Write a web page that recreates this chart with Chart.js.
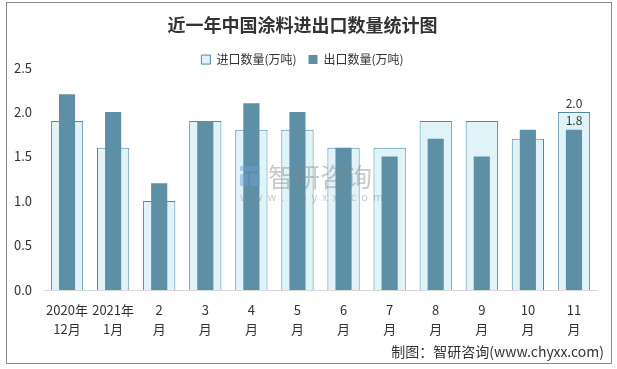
<!DOCTYPE html>
<html>
<head>
<meta charset="utf-8">
<script src="https://cdn.jsdelivr.net/npm/chart.js@4"></script>
<style>
    html, body { margin: 0; padding: 0; background: #fff; }
    #wrap { width: 617px; height: 369px; position: relative; }
</style>
</head>
<body>
<div id="wrap"><canvas id="tradeChart" width="617" height="369"></canvas></div>
<script>
const months = [["2020年", "12月"], ["2021年", "1月"], ["2", "月"], ["3", "月"], ["4", "月"], ["5", "月"],
    ["6", "月"], ["7", "月"], ["8", "月"], ["9", "月"], ["10", "月"], ["11", "月"]];
const importQty = [1.9, 1.6, 1.0, 1.9, 1.8, 1.8, 1.6, 1.6, 1.9, 1.9, 1.7, 2.0];
const exportQty = [2.2, 2.0, 1.2, 1.9, 2.1, 2.0, 1.6, 1.5, 1.7, 1.5, 1.8, 1.8];
const labelledMonth = 11;

const FONT = "'Noto Sans CJK SC', 'Microsoft YaHei', sans-serif";
const TEXT = "#333333";

// frame, watermark, footer and value labels
const decorations = {
    id: "decorations",
    beforeUpdate(chart) {
        // pull the plot up closer to the legend
        const legend = chart.legend;
        if (legend && !legend._trimmed) {
            const fit = legend.fit;
            legend.fit = function () {
                fit.call(this);
                this.height -= 8;
            };
            legend._trimmed = true;
        }
    },
    beforeDraw(chart) {
        const ctx = chart.ctx;
        ctx.save();
        ctx.fillStyle = "#fff";
        ctx.fillRect(0, 0, chart.width, chart.height);
        ctx.strokeStyle = "#8c8c8c";
        ctx.lineWidth = 1;
        ctx.strokeRect(6.5, 2.5, 605, 361);
        ctx.restore();
    },
    afterDatasetsDraw(chart) {
        const ctx = chart.ctx;
        ctx.save();
        // watermark
        ctx.globalAlpha = 0.45;
        ctx.fillStyle = "#6f9fd8";
        ctx.fillRect(240, 166, 20, 5);
        ctx.fillRect(240, 174, 8, 12);
        ctx.fillRect(250, 174, 10, 12);
        ctx.fillStyle = "#8a8a8a";
        ctx.font = "26px " + FONT;
        ctx.textAlign = "left";
        ctx.textBaseline = "middle";
        ctx.fillText("智研咨询", 268, 177);
        ctx.font = "11px " + FONT;
        ctx.fillText("w  w  w  .  c  h  y  x  x  .  c  o  m", 240, 197);
        ctx.globalAlpha = 1;

        // value labels on last month
        ctx.fillStyle = TEXT;
        ctx.font = "12px " + FONT;
        ctx.textAlign = "center";
        ctx.textBaseline = "bottom";
        chart.data.datasets.forEach((ds, i) => {
            const bar = chart.getDatasetMeta(i).data[labelledMonth];
            ctx.fillText(ds.data[labelledMonth].toFixed(1), bar.x, bar.y - 3);
        });

        // footer
        ctx.font = "14px " + FONT;
        ctx.textAlign = "right";
        ctx.textBaseline = "middle";
        ctx.fillText("制图：智研咨询(www.chyxx.com)", 604, 352);
        ctx.restore();
    }
};

new Chart(document.getElementById("tradeChart"), {
    type: "bar",
    data: {
        labels: months,
        datasets: [
            {
                label: "进口数量(万吨)",
                data: importQty,
                backgroundColor: "#dff3f9",
                borderColor: "#4f88a1",
                borderWidth: 1,
                grouped: false,
                order: 2,
                categoryPercentage: 1,
                barPercentage: 0.7
            },
            {
                label: "出口数量(万吨)",
                data: exportQty,
                backgroundColor: "#5d8fa7",
                borderColor: "#5d8fa7",
                borderWidth: 0,
                grouped: false,
                order: 1,
                categoryPercentage: 1,
                barPercentage: 0.35
            }
        ]
    },
    options: {
        responsive: false,
        animation: false,
        layout: { padding: { top: 10, left: 8, right: 20, bottom: 28 } },
        plugins: {
            title: {
                display: true,
                text: "近一年中国涂料进出口数量统计图",
                color: TEXT,
                font: { family: FONT, size: 18, weight: "bold", lineHeight: 1.2 },
                padding: { top: 4, bottom: 6 }
            },
            legend: {
                display: true,
                labels: {
                    sort: (a, b) => a.datasetIndex - b.datasetIndex,
                    color: TEXT,
                    font: { family: FONT, size: 12 },
                    boxWidth: 9,
                    boxHeight: 9,
                    padding: 12,
                    useBorderRadius: false
                }
            },
            tooltip: { enabled: false }
        },
        scales: {
            x: {
                grid: { display: false },
                border: { display: true, color: "#d9d9d9" },
                ticks: {
                    color: TEXT,
                    font: { family: FONT, size: 13, lineHeight: 1.5 },
                    padding: 2,
                    maxRotation: 0,
                    autoSkip: false
                }
            },
            y: {
                min: 0,
                max: 2.5,
                grid: { display: false, drawTicks: false },
                border: { display: false },
                afterFit(scale) { scale.width = 36; },
                ticks: {
                    stepSize: 0.5,
                    color: TEXT,
                    font: { family: FONT, size: 13 },
                    padding: 12,
                    callback: v => v.toFixed(1)
                }
            }
        }
    },
    plugins: [decorations]
});
</script>
</body>
</html>
